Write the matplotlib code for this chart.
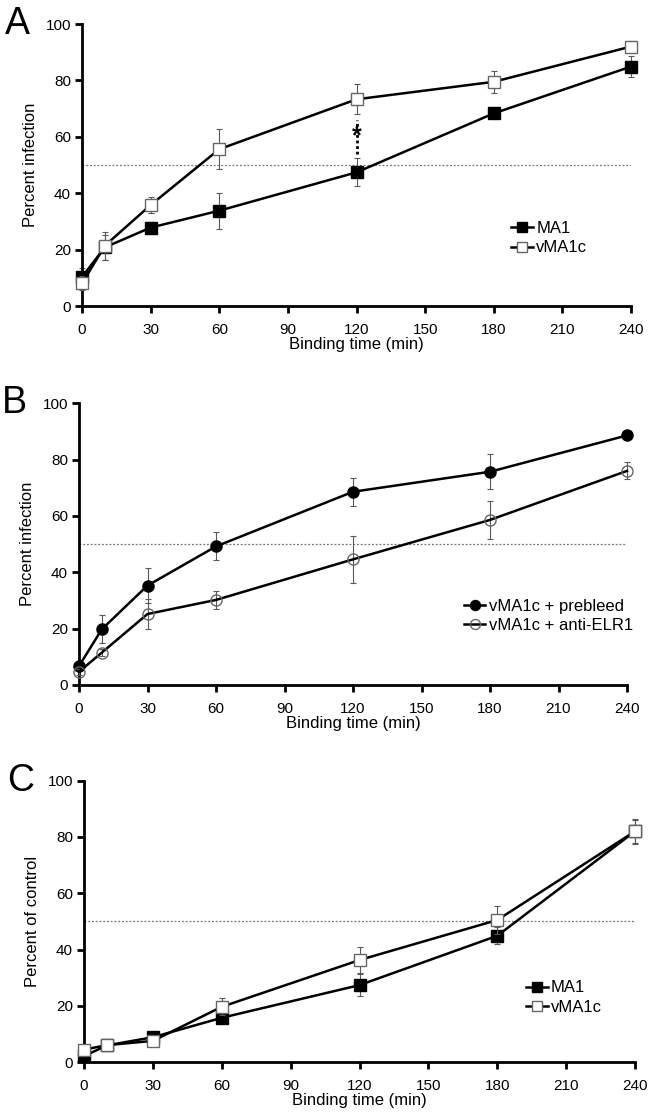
import matplotlib
matplotlib.use("Agg")
import matplotlib.pyplot as plt

plt.rcParams['font.family'] = ['Liberation Sans', 'DejaVu Sans']
plt.rcParams['font.size'] = 10

# Binding times (min)
times = [0, 10, 30, 60, 120, 180, 240]
x_ticks = [0, 30, 60, 90, 120, 150, 180, 210, 240]
y_ticks = [0, 20, 40, 60, 80, 100]

# Panel A: percent infection
a_ma1 = [10.3, 20.8, 27.8, 33.8, 47.4, 68.3, 84.9]
a_ma1_err = [3.0, 4.5, 2.0, 6.4, 5.0, 1.5, 3.8]
a_vma1c = [8.0, 21.4, 35.8, 55.6, 73.3, 79.5, 92.0]
a_vma1c_err = [2.5, 5.0, 2.8, 7.0, 5.3, 4.0, 2.0]

# Panel B: percent infection with antisera
b_prebleed = [6.7, 19.8, 35.3, 49.2, 68.6, 75.7, 88.6]
b_prebleed_err = [1.0, 5.0, 6.3, 5.0, 5.0, 6.2, 0.5]
b_anti = [4.7, 11.5, 25.2, 30.2, 44.6, 58.6, 76.0]
b_anti_err = [1.0, 1.2, 5.2, 3.3, 8.4, 6.7, 3.0]

# Panel C: percent of control
c_ma1 = [2.2, 6.0, 8.9, 15.8, 27.4, 44.9, 82.0]
c_ma1_err = [1.0, 0.8, 1.0, 1.5, 4.0, 3.0, 4.0]
c_vma1c = [4.5, 6.1, 7.6, 19.7, 36.3, 50.5, 82.0]
c_vma1c_err = [1.0, 0.8, 1.0, 3.0, 4.5, 5.0, 4.5]

fig = plt.figure(figsize=(6.52, 11.17), dpi=100)

# [left, bottom, width, height] for each panel
positions = [
    [82 / 652, 1 - 306 / 1117, 549 / 652, 282 / 1117],
    [79 / 652, 1 - 685 / 1117, 548 / 652, 281.7 / 1117],
    [84 / 652, 1 - 1062.3 / 1117, 551 / 652, 281.7 / 1117],
]


def setup_axes(ax, ylabel, letter):
    ax.set_xlim(0, 240)
    ax.set_ylim(0, 100)
    ax.set_xticks(x_ticks)
    ax.set_yticks(y_ticks)
    for side in ['top', 'right']:
        ax.spines[side].set_visible(False)
    for side in ['left', 'bottom']:
        ax.spines[side].set_linewidth(2)
    ax.tick_params(direction='out', length=5, width=2, labelsize=11)
    ax.tick_params(axis='x', pad=7)
    ax.tick_params(axis='y', pad=3)
    ax.set_xlabel('Binding time (min)', fontsize=12, labelpad=0)
    ax.set_ylabel(ylabel, fontsize=12, labelpad=5)
    ax.axhline(50, color='0.45', lw=0.9, ls=(0, (1.5, 1.5)), zorder=0)
    ax.text(-0.14, 1.0, letter, transform=ax.transAxes, fontsize=27,
            ha='left', va='center')


def draw_series(ax, y, err, marker, face, edge, label, z):
    ax.errorbar(times, y, yerr=err, fmt='none', ecolor='0.35',
                elinewidth=0.8, capsize=2, capthick=0.8, zorder=z, clip_on=False)
    ax.plot(times, y, color='black', lw=1.8, marker=marker, ms=8,
            mfc=face, mec=edge, mew=1.0, label=label, zorder=z + 0.5,
            clip_on=False)


def add_legend(ax, x, y):
    ax.legend(loc='center left', bbox_to_anchor=(x, y), frameon=False,
              borderaxespad=0, handlelength=1.3, handletextpad=0.2,
              labelspacing=0.25, fontsize=12, markerscale=0.9)


# Panel A
ax = fig.add_axes(positions[0])
setup_axes(ax, 'Percent infection', 'A')
draw_series(ax, a_ma1, a_ma1_err, 's', 'black', 'black', 'MA1', 2)
draw_series(ax, a_vma1c, a_vma1c_err, 's', 'white', '0.4', 'vMA1c', 3)
ax.plot([120, 120], [54, 66], color='black', lw=2, ls=(0, (1, 1)), zorder=1)
ax.text(120, 60, '*', ha='center', va='center', fontsize=18,
        fontweight='bold', zorder=2)
add_legend(ax, 0.77, 0.24)

# Panel B
ax = fig.add_axes(positions[1])
setup_axes(ax, 'Percent infection', 'B')
draw_series(ax, b_prebleed, b_prebleed_err, 'o', 'black', 'black',
            'vMA1c + prebleed', 2)
draw_series(ax, b_anti, b_anti_err, 'o', 'none', '0.4',
            'vMA1c + anti-ELR1', 3)
add_legend(ax, 0.69, 0.245)

# Panel C
ax = fig.add_axes(positions[2])
setup_axes(ax, 'Percent of control', 'C')
draw_series(ax, c_ma1, c_ma1_err, 's', 'black', 'black', 'MA1', 2)
draw_series(ax, c_vma1c, c_vma1c_err, 's', 'white', '0.4', 'vMA1c', 3)
add_legend(ax, 0.79, 0.23)

fig.savefig('out.png', dpi=100)
